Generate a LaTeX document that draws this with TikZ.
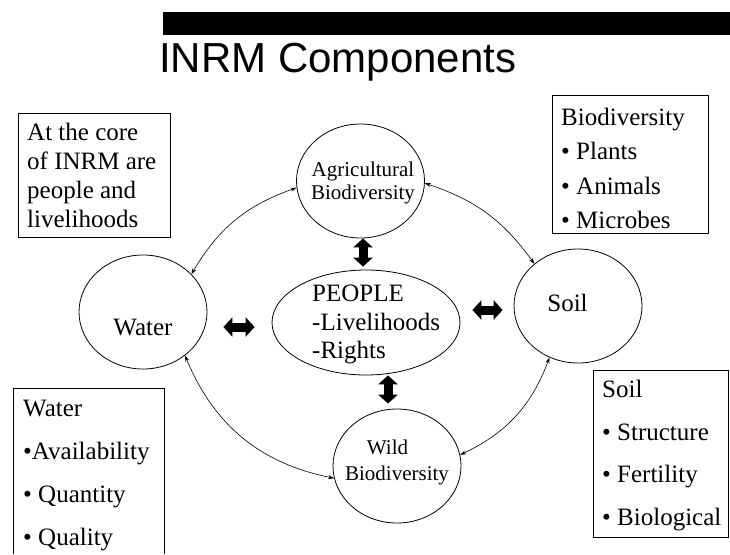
\documentclass[tikz,border=0pt]{standalone}
\usepackage{fontspec}
\setmainfont{Liberation Serif}
\newfontfamily\titlefont{Liberation Sans}
\usetikzlibrary{shapes.geometric,arrows.meta}
\begin{document}
\begin{tikzpicture}[x=1pt,y=-1pt,
  circ/.style={ellipse, draw, line width=0.8pt, minimum width=128pt, minimum height=114pt, inner sep=0pt},
  boxline/.style={draw, line width=0.8pt},
  txt/.style={anchor=north west, inner sep=0pt, align=left},
  ctxt/.style={inner sep=0pt, align=center},
  link/.style={line width=0.6pt, {Stealth[length=6pt,width=4pt]}-{Stealth[length=6pt,width=4pt]}},
  big/.style={line width=9pt, {Triangle[length=9pt,width=19pt]}-{Triangle[length=9pt,width=19pt]}},
  f25/.style={font=\fontsize{25}{29}\selectfont},
  f21/.style={font=\fontsize{21}{23}\selectfont}]
\useasboundingbox (0,0) rectangle (730,554);

% title bar and title
\fill (163,12) rectangle (730,35);
\node[anchor=base west, inner sep=0pt, font=\titlefont\fontsize{42}{46}\selectfont] (title) at (159,72) {INRM Components};

% ellipses
\node[circ] (agri) at (360.5,181) {};
\node[circ] (water) at (143,312) {};
\node[circ] (soil) at (578,306) {};
\node[circ] (wild) at (397,466) {};
\node[ellipse, draw, line width=0.8pt, minimum width=188pt, minimum height=105pt, inner sep=0pt] (people) at (366,322.5) {};

% ellipse texts
\node[ctxt, anchor=north, f21] (agritext) at (363,161.5) {Agricultural\\Biodiversity};
\node[ctxt, anchor=base, f25] (watertext) at (143,335) {Water};
\node[ctxt, anchor=base, f25] (soiltext) at (567.5,311) {Soil};
\node[txt, font=\fontsize{25}{28.5}\selectfont] (peopletext) at (312,285) {PEOPLE\\-Livelihoods\\-Rights};
\node[ctxt, anchor=north, font=\fontsize{21}{26}\selectfont] (wildtext) at (397,439.5) {Wild\hspace*{19pt}\\Biodiversity};

% thick double arrows
\draw[big] ([shift={(16,15)}]water.east) -- ([shift={(-17,4.5)}]people.west);
\draw[big] ([shift={(12,-12.5)}]people.east) -- ([shift={(-11,4)}]soil.west);
\draw[big] ([shift={(2.5,0)}]agri.south) -- ([shift={(-3,-3)}]people.north);
\draw[big] ([shift={(22,0)}]people.south) -- ([shift={(-9,-5)}]wild.north);

% thin curved links
\draw[link] (water.38) to[bend left=20] (agri.186);
\draw[link] (agri.-2) to[bend left=18] (soil.136);
\draw[link] (water.-46) to[bend right=28] (wild.191);
\draw[link] (soil.241) to[bend left=22] (wild.10);

% boxes
\draw[boxline] (18,113) rectangle (170,237);
\node[txt, font=\fontsize{25}{29}\selectfont] (coretext) at (27,123) {At the core\\of INRM are\\people and\\livelihoods};

\draw[boxline] (552,95) rectangle (708,233);
\node[txt, font=\fontsize{25}{34.5}\selectfont] (biotext) at (561,107.5) {Biodiversity\\\textbullet{} Plants\\\textbullet{} Animals\\\textbullet{} Microbes};

\draw[boxline] (593,370) rectangle (728,537);
\node[txt, font=\fontsize{25}{42.7}\selectfont] (soilbox) at (602,380) {Soil\\\textbullet{} Structure\\\textbullet{} Fertility\\\textbullet{} Biological};

\draw[boxline] (13,554) -- (13,388) -- (164,388) -- (164,554);
\node[txt, font=\fontsize{25}{43}\selectfont] (waterbox) at (23,399.5) {Water\\\textbullet Availability\\\textbullet{} Quantity\\\textbullet{} Quality};
\end{tikzpicture}
\end{document}
